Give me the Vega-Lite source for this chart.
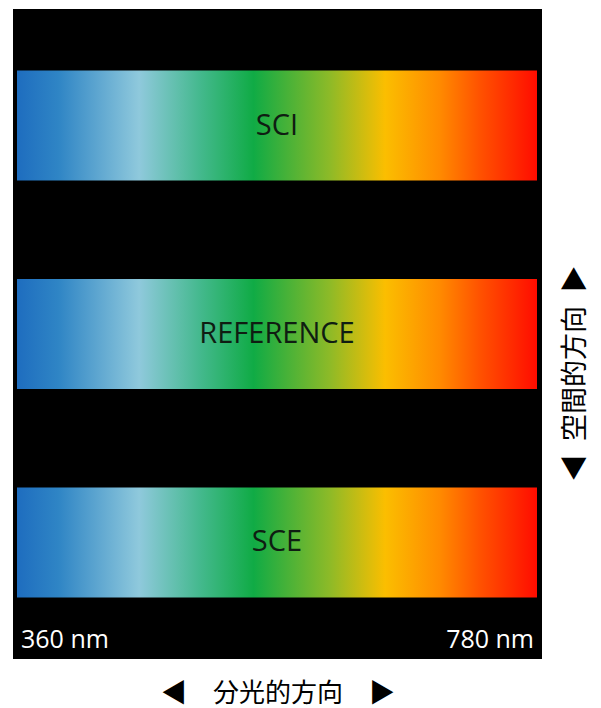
{
  "$schema": "https://vega.github.io/schema/vega-lite/v6.json",
  "autosize": {"type": "none"},
  "width": 529,
  "height": 650,
  "padding": {"left": 13, "top": 9, "right": 59, "bottom": 49},
  "background": "white",
  "config": {"view": {"fill": "black", "stroke": null}},
  "data": {"values": [
    {"sample": "SCI", "start": 360, "end": 780},
    {"sample": "REFERENCE", "start": 360, "end": 780},
    {"sample": "SCE", "start": 360, "end": 780}
  ]},
  "encoding": {
    "y": {
      "field": "sample", "type": "nominal", "sort": ["SCI", "REFERENCE", "SCE"],
      "scale": {"paddingInner": 0.4724, "paddingOuter": 0.295},
      "axis": {
        "orient": "right", "labels": false, "ticks": false, "domain": false, "grid": false,
        "title": "◀\u2002空間的方向\u2002▶",
        "titleFont": "Noto Sans CJK JP", "titleFontSize": 27, "titleFontWeight": "normal", "titleColor": "black",
        "titleAngle": 270, "titleX": 33, "titleY": 364, "titleAlign": "center", "titleBaseline": "middle"
      }
    }
  },
  "layer": [
    {
      "mark": {
        "type": "rect",
        "color": {
          "gradient": "linear", "x1": 0, "y1": 0, "x2": 1, "y2": 0,
          "stops": [
            {"offset": 0, "color": "#1e6dbf"},
            {"offset": 0.08, "color": "#2f85c5"},
            {"offset": 0.235, "color": "#8fc9dc"},
            {"offset": 0.35, "color": "#45b98f"},
            {"offset": 0.455, "color": "#10ab45"},
            {"offset": 0.6, "color": "#8cba28"},
            {"offset": 0.708, "color": "#fbbe00"},
            {"offset": 0.813, "color": "#ff8a00"},
            {"offset": 0.89, "color": "#ff5200"},
            {"offset": 1, "color": "#ff0c00"}
          ]
        }
      },
      "encoding": {
        "x": {
          "field": "start", "type": "quantitative",
          "scale": {"domain": [356.77, 784.04], "nice": false, "zero": false},
          "axis": {
            "values": [360, 780], "labelExpr": "datum.value + ' nm'",
            "ticks": false, "domain": false, "grid": false,
            "labelColor": "white", "labelFont": "Open Sans", "labelFontSize": 25,
            "labelBaseline": "alphabetic", "labelPadding": -12,
            "labelFlush": 10, "labelFlushOffset": -3.5, "labelDx": 2.5,
            "title": "◀\u2002\u2002分光的方向\u2002\u2002▶",
            "titleFont": "Noto Sans CJK JP", "titleFontSize": 26, "titleFontWeight": "normal", "titleColor": "black",
            "titleY": 34, "titleBaseline": "middle", "titleAlign": "center"
          }
        },
        "x2": {"field": "end"}
      }
    },
    {
      "mark": {"type": "text", "font": "Open Sans", "fontSize": 29, "color": "#0f1d12", "align": "center", "baseline": "middle"},
      "encoding": {
        "x": {"datum": 570, "type": "quantitative"},
        "text": {"field": "sample"}
      }
    }
  ]
}
